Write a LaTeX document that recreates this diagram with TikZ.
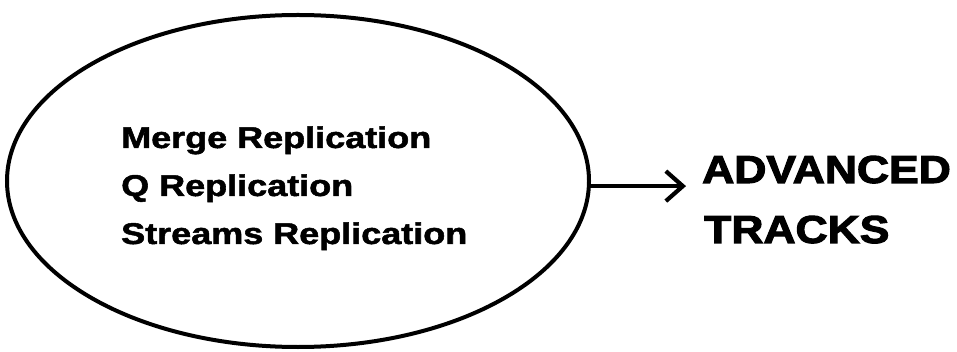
\documentclass[tikz,border=0pt]{standalone}
\usepackage{fontspec}
\usepackage{graphicx}
\setmainfont{Liberation Sans}
\newfontfamily\heavyfont[FakeBold=1.6]{Liberation Sans Bold}
\newfontfamily\blackfont[FakeBold=2.6]{Liberation Sans Bold}
\usetikzlibrary{shapes.geometric,arrows.meta}

\tikzset{
  ring/.style={draw=black, line width=4pt, ellipse, minimum width=582pt, minimum height=332pt, inner sep=0pt},
  itemtext/.style={anchor=base west, inner sep=0pt, font=\heavyfont\fontsize{30}{36}\selectfont},
  tracktext/.style={anchor=base west, inner sep=0pt, font=\blackfont\fontsize{39}{46}\selectfont},
  link/.style={line width=4.2pt, -{Straight Barb[length=17pt, width=30pt]}}
}

\begin{document}
\begin{tikzpicture}[x=1pt, y=-1pt]
  \useasboundingbox (0,0) rectangle (957,352);

  % the group of replication kinds
  \node[ring] (circ) at (298,181) {};
  \node[itemtext] (merge)   at (121,148) {\scalebox{1.2}[1]{Merge Replication}};
  \node[itemtext] (qrep)    at (121,196) {\scalebox{1.2}[1]{Q Replication}};
  \node[itemtext] (streams) at (121,244) {\scalebox{1.2}[1]{Streams Replication}};

  % the target label
  \node[tracktext] (adv) at (702,183) {\scalebox{1.14}[1]{ADVANCED}};
  \node[tracktext] (trk) at (704,243) {\scalebox{1.14}[1]{TRACKS}};

  % connector from the ellipse to the label
  \draw[link, shorten >=16pt] (circ.-1.8) -- (circ.-1.8 -| adv.west);
\end{tikzpicture}
\end{document}
